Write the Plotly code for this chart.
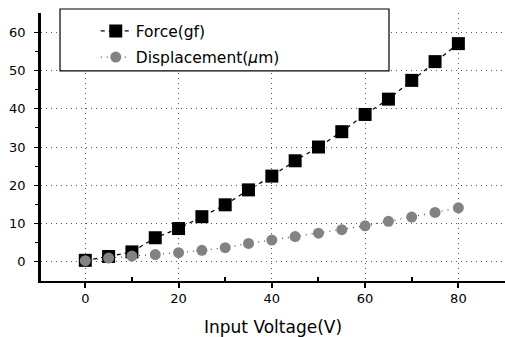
import plotly.graph_objects as go

voltage = [0, 5, 10, 15, 20, 25, 30, 35, 40, 45, 50, 55, 60, 65, 70, 75, 80]
force_gf = [0.4, 1.4, 2.6, 6.3, 8.7, 11.8, 14.9, 18.8, 22.4, 26.4, 30.0, 34.0, 38.5, 42.5, 47.4, 52.3, 57.0]
displacement_um = [0.3, 1.0, 1.5, 1.9, 2.4, 3.0, 3.7, 4.8, 5.7, 6.6, 7.5, 8.4, 9.4, 10.6, 11.7, 12.9, 14.1]

x_ticks = [0, 20, 40, 60, 80]
y_ticks = [0, 10, 20, 30, 40, 50, 60]

FONT = "DejaVu Sans"

fig = go.Figure()
fig.add_trace(go.Scatter(
    x=voltage, y=force_gf, name="Force(gf)", mode="lines+markers", legendgroup="f",
    line=dict(color="black", width=1.2, dash="4px,4px"),
    marker=dict(symbol="square", size=13, color="black"),
))
fig.add_trace(go.Scatter(
    x=voltage, y=displacement_um, name="Displacement(<i>μ</i>m)", mode="lines+markers", legendgroup="d",
    line=dict(color="#444", width=1.2, dash="1px,5px"),
    marker=dict(symbol="circle", size=11, color="#828282"),
))

grid = dict(showgrid=True, gridcolor="#555", gridwidth=1, griddash="1px,4px")

fig.update_layout(
    width=505, height=337, autosize=False,
    margin=dict(l=41, r=0, t=13, b=56),
    paper_bgcolor="white", plot_bgcolor="white",
    font=dict(family=FONT, color="black", size=13),
    showlegend=True,
    legend=dict(
        x=0.118, y=0.995, xanchor="left", yanchor="top",
        bgcolor="rgba(0,0,0,0)", borderwidth=0, tracegroupgap=3,
        font=dict(family=FONT, size=15.5, color="black"),
    ),
    xaxis=dict(
        range=[-9.5, 90], tickvals=x_ticks, ticktext=[str(v) for v in x_ticks],
        showline=True, linecolor="black", linewidth=1.5,
        ticks="outside", ticklen=5, tickcolor="black", tickwidth=1.5,
        minor=dict(tickvals=[10, 30, 50, 70], ticks="inside", ticklen=4, tickcolor="black", showgrid=False),
        zeroline=False,
        title=dict(text="Input Voltage(V)", font=dict(family=FONT, size=17), standoff=16),
        tickfont=dict(size=13), **grid,
    ),
    yaxis=dict(
        range=[-5, 65], tickvals=y_ticks, ticktext=[str(v) for v in y_ticks],
        showline=True, linecolor="black", linewidth=2.5,
        ticks="outside", ticklen=4, tickcolor="black", tickwidth=1,
        minor=dict(tickvals=[5, 15, 25, 35, 45, 55], ticks="outside", ticklen=3, tickcolor="black", showgrid=False),
        ticklabelstandoff=6,
        zeroline=False, tickfont=dict(size=13), **grid,
    ),
    shapes=[dict(
        type="rect", xref="paper", yref="paper",
        x0=0.041, x1=0.75, y0=0.784, y1=1.015,
        line=dict(color="black", width=1.2), fillcolor="white", layer="above",
    )],
)

fig.write_html("out.html")
